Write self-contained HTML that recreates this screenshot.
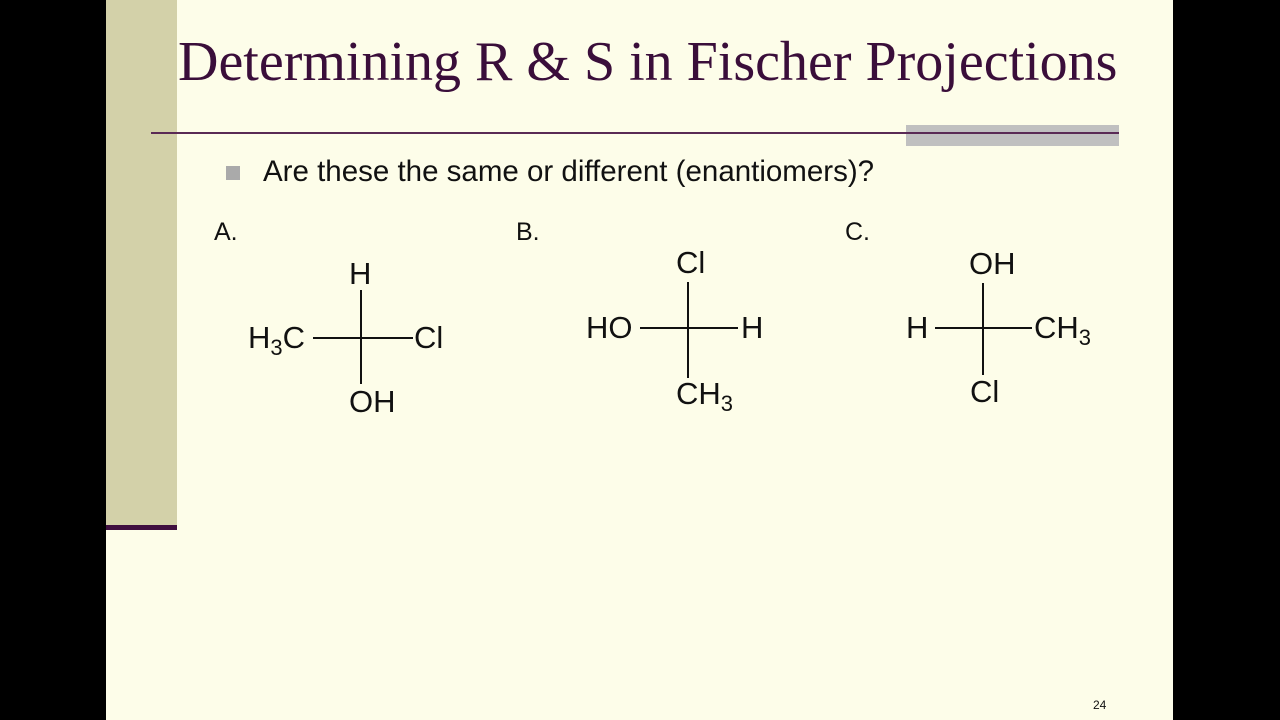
<!DOCTYPE html>
<html><head><style>
body{margin:0;width:1280px;height:720px;background:#000;position:relative;overflow:hidden;font-family:"Liberation Sans",sans-serif;}
.slide{position:absolute;left:106px;top:0;width:1067px;height:720px;background:#fdfde9;}
.side{position:absolute;left:106px;top:0;width:71px;height:525px;background:#d3d1a9;}
.sideline{position:absolute;left:106px;top:525px;width:71px;height:5px;background:#3f0f3f;}
.t{position:absolute;white-space:nowrap;color:#111;}
.c{font-size:31px;}
.c sub{font-size:22px;}
</style></head><body>
<div class="slide"></div>
<div class="side"></div>
<div class="sideline"></div>
<div class="t" style="left:178px;top:30px;font-family:'Liberation Serif',serif;font-size:56px;color:#3a0e3a;">Determining R &amp; S in Fischer Projections</div>
<div style="position:absolute;left:906px;top:125px;width:213px;height:21px;background:#c0c0c0;"></div>
<div style="position:absolute;left:151px;top:132px;width:968px;height:2px;background:#5a2a55;"></div>
<div style="position:absolute;left:226px;top:166px;width:14px;height:14px;background:#aaa;"></div>
<div class="t" style="left:263px;top:155px;font-size:29.5px;">Are these the same or different (enantiomers)?</div>
<div class="t" style="left:214px;top:218px;font-size:25px;">A.</div>
<div class="t" style="left:516px;top:218px;font-size:25px;">B.</div>
<div class="t" style="left:845px;top:218px;font-size:25px;">C.</div>
<svg width="1280" height="720" style="position:absolute;left:0;top:0" stroke="#111" stroke-width="2">
<line x1="361" y1="290" x2="361" y2="384"/><line x1="313" y1="338" x2="413" y2="338"/>
<line x1="688" y1="282" x2="688" y2="378"/><line x1="640" y1="328" x2="738" y2="328"/>
<line x1="983" y1="283" x2="983" y2="375"/><line x1="935" y1="328" x2="1032" y2="328"/>
</svg>
<div class="t c" style="left:349px;top:256px;">H</div>
<div class="t c" style="left:248px;top:320px;">H<sub>3</sub>C</div>
<div class="t c" style="left:414px;top:320px;">Cl</div>
<div class="t c" style="left:349px;top:384px;">OH</div>
<div class="t c" style="left:676px;top:245px;">Cl</div>
<div class="t c" style="left:586px;top:310px;">HO</div>
<div class="t c" style="left:741px;top:310px;">H</div>
<div class="t c" style="left:676px;top:376px;">CH<sub>3</sub></div>
<div class="t c" style="left:969px;top:246px;">OH</div>
<div class="t c" style="left:906px;top:310px;">H</div>
<div class="t c" style="left:1034px;top:310px;">CH<sub>3</sub></div>
<div class="t c" style="left:970px;top:374px;">Cl</div>
<div class="t" style="left:1093px;top:698px;font-size:12px;">24</div>
</body></html>
